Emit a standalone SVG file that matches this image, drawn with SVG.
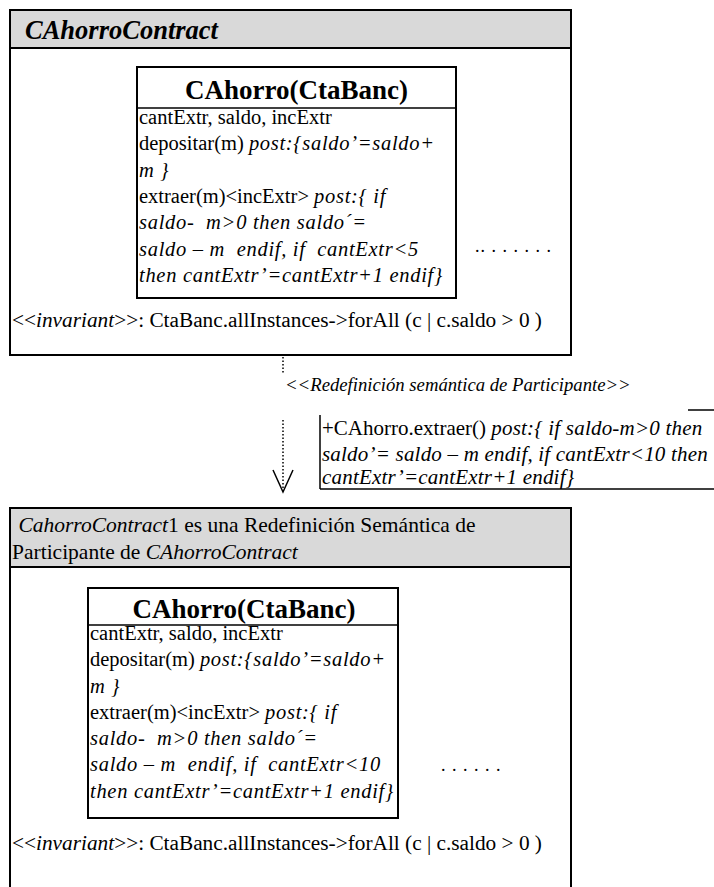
<svg xmlns="http://www.w3.org/2000/svg" width="714" height="887" viewBox="0 0 714 887">
<style>
text{font-family:"Liberation Serif","Times New Roman",serif;fill:#000}
.t{font-size:20.5px}
.i{font-style:italic;letter-spacing:0.7px}
.ttl{font-size:27px;font-weight:bold}
.hdr{font-size:26.5px;font-weight:bold;font-style:italic}
.hb{font-size:21.5px}
.inv{font-size:21.3px}
.lab{font-size:18.7px;font-style:italic}
.nt{font-size:21px}
.ni{font-style:italic;letter-spacing:0.2px}
.frame{fill:#fff;stroke:#000;stroke-width:2}
.band{fill:#d9d9d9;stroke:#000;stroke-width:2}
.cls{fill:#fff;stroke:#000;stroke-width:2}
.ln{stroke:#000;stroke-width:1.5;fill:none}
.dot{stroke:#000;stroke-width:1.5;stroke-dasharray:1.5 2;fill:none}
.dots{font-size:18px}
</style>
<g id="contract1">
<rect class="frame" x="10" y="10" width="561" height="345"/>
<rect class="band" x="10" y="10" width="561" height="38"/>
<text class="hdr" x="25" y="39">CAhorroContract</text>
<g id="class1">
<rect class="cls" x="137" y="67" width="319" height="231"/>
<line class="ln" x1="137" y1="108" x2="456" y2="108"/>
<text class="ttl" x="296.5" y="99" text-anchor="middle">CAhorro(CtaBanc)</text>
<text class="t" x="139" y="124">cantExtr, saldo, incExtr</text>
<text class="t" x="139" y="150">depositar(m) <tspan class="i">post:{saldo’=saldo+</tspan></text>
<text class="t i" x="139" y="177">m }</text>
<text class="t" x="139" y="203">extraer(m)&lt;incExtr&gt; <tspan class="i">post:{ if</tspan></text>
<text class="t i" x="139" y="229" xml:space="preserve">saldo-  m&gt;0 then saldo´=</text>
<text class="t i" x="139" y="256" xml:space="preserve">saldo – m  endif, if  cantExtr&lt;5</text>
<text class="t i" x="139" y="282">then cantExtr’=cantExtr+1 endif}</text>
</g>
<text class="dots" x="475" y="252" letter-spacing="1">.. . . . . . .</text>
<text class="inv" x="12" y="327">&lt;&lt;<tspan font-style="italic">invariant</tspan>&gt;&gt;: CtaBanc.allInstances-&gt;forAll (c | c.saldo &gt; 0 )</text>
</g>
<g id="connectors">
<line class="dot" x1="283" y1="357" x2="283" y2="373"/>
<line class="dot" x1="283" y1="420" x2="283" y2="490"/>
<polyline class="ln" points="273,470 283,492 293,470"/>
</g>
<g id="label">
<text class="lab" x="285" y="391">&lt;&lt;Redefinición semántica de Participante&gt;&gt;</text>
</g>
<g id="note">
<line class="ln" x1="688" y1="410" x2="714" y2="410"/>
<line class="ln" x1="320" y1="415" x2="320" y2="489"/>
<line class="ln" x1="320" y1="489" x2="714" y2="489"/>
<text class="nt" x="322" y="435">+CAhorro.extraer() <tspan class="ni">post:{ if saldo-m&gt;0 then</tspan></text>
<text class="nt ni" x="322" y="461">saldo’= saldo – m endif, if cantExtr&lt;10 then</text>
<text class="nt ni" x="322" y="484">cantExtr’=cantExtr+1 endif}</text>
</g>
<g id="contract2">
<path class="frame" d="M10,900 V508 H571 V900"/>
<rect class="band" x="10" y="508" width="561" height="59"/>
<text class="hb" x="13" y="532" xml:space="preserve"> <tspan font-style="italic">CahorroContract</tspan>1 es una Redefinición Semántica de</text>
<text class="hb" x="12" y="559">Participante de <tspan font-style="italic">CAhorroContract</tspan></text>
<g id="class2">
<rect class="cls" x="88" y="588" width="310" height="230"/>
<line class="ln" x1="88" y1="625" x2="398" y2="625"/>
<text class="ttl" x="244" y="618" text-anchor="middle">CAhorro(CtaBanc)</text>
<text class="t" x="90" y="640">cantExtr, saldo, incExtr</text>
<text class="t" x="90" y="666">depositar(m) <tspan class="i">post:{saldo’=saldo+</tspan></text>
<text class="t i" x="90" y="693">m }</text>
<text class="t" x="90" y="719">extraer(m)&lt;incExtr&gt; <tspan class="i">post:{ if</tspan></text>
<text class="t i" x="90" y="745" xml:space="preserve">saldo-  m&gt;0 then saldo´=</text>
<text class="t i" x="90" y="771" xml:space="preserve">saldo – m  endif, if  cantExtr&lt;10</text>
<text class="t i" x="90" y="798">then cantExtr’=cantExtr+1 endif}</text>
</g>
<text class="dots" x="441" y="771" letter-spacing="1">. . . . . .</text>
<text class="inv" x="12" y="850">&lt;&lt;<tspan font-style="italic">invariant</tspan>&gt;&gt;: CtaBanc.allInstances-&gt;forAll (c | c.saldo &gt; 0 )</text>
</g>
</svg>
